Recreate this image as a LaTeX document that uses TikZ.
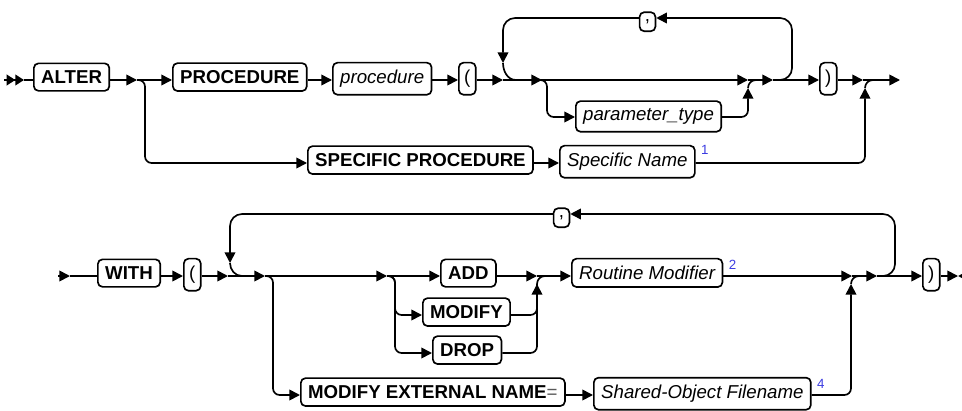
\documentclass[tikz,border=0pt]{standalone}
\usepackage{fontspec}
\setmainfont{Liberation Sans}
\usetikzlibrary{arrows.meta}
\definecolor{notenum}{RGB}{60,60,225}

\begin{document}
\begin{tikzpicture}[x=0.75pt, y=-0.75pt, line width=1.25pt,
  box/.style={draw, fill=white, rounded corners=3.5pt, inner xsep=5.5pt, inner ysep=5.5pt,
    anchor=mid west, font=\fontsize{14}{16}\selectfont},
  kw/.style={box, font=\fontsize{14}{16}\selectfont\bfseries},
  var/.style={box, font=\fontsize{14}{16}\selectfont\itshape},
  punc/.style={box, inner xsep=4pt},
  arr/.style={-{Triangle[length=8pt,width=8pt]}},
  dbl/.style={-{Triangle[length=6.5pt,width=8pt]Triangle[length=6.5pt,width=8pt]}},
  rr/.style={rounded corners=5pt},
  backloop/.style={rounded corners=9pt},
  supnum/.style={font=\fontsize{10}{12}\selectfont, text=notenum, inner sep=0pt, anchor=north west}]
  \useasboundingbox (0,0) rectangle (962,410);
  \clip (0,0) rectangle (962,410);

  % first line: ALTER PROCEDURE
  \node[kw] (alter) at (33,80) {ALTER};
  \node[kw] (proc) at (172,80) {PROCEDURE};
  \node[var] (pname) at (332,80) {procedure};
  \node[punc] (lpa) at (458,80) {(};
  \node[var] (ptype) at (575,117) {parameter\_type};
  \node[punc, anchor=mid] (comma1) at (647.5,18) {,};
  \node[punc] (rpa) at (819,80) {)};
  \node[kw] (spec) at (307,163) {SPECIFIC PROCEDURE};
  \node[var] (sname) at (559,163) {Specific Name};
  \node[supnum] (n1) at ([xshift=3.5pt,yshift=0.5pt]sname.north east) {1};

  \coordinate (s0) at (4,80);
  \coordinate (s1) at (24,80);
  \coordinate (a1) at (137,80);
  \coordinate (j1) at (145,80);
  \coordinate (a2) at (503,80);
  \coordinate (lt1) at (503,63);
  \coordinate (lh1) at (516,80);
  \coordinate (a3) at (542,80);
  \coordinate (j2) at (547,80);
  \coordinate (a5) at (748,80);
  \coordinate (m1) at (748,88);
  \coordinate (h1) at (756,80);
  \coordinate (a4) at (773,80);
  \coordinate (lr1) at (792,18);
  \coordinate (a6) at (863,80);
  \coordinate (m2) at (865,88);
  \coordinate (h2) at (873,80);
  \coordinate (e1) at (900,80);

  \draw[dbl] (s0) -- (s1);
  \draw (s1) -- (alter.mid west);
  \draw[arr] (alter.mid east) -- (a1);
  \draw[arr] (a1) -- (proc.mid west);
  \draw[arr, rr] (a1) -| (j1 |- spec.mid west) -- (spec.mid west);
  \draw[arr] (proc.mid east) -- (pname.mid west);
  \draw[arr] (pname.mid east) -- (lpa.mid west);
  \draw[arr] (lpa.mid east) -- (a2);
  \draw[arr] (a2) -- (a3);
  \draw[arr, rr] (a3) -| (j2 |- ptype.mid west) -- (ptype.mid west);
  \draw[arr] (a3) -- (a5);
  \draw[arr, rr] (ptype.mid east) -| (m1);
  \draw (m1) to[out=90, in=180] (h1);
  \draw[arr] (a5) -- (a4);
  \draw[arr] (a4) -- (rpa.mid west);
  \draw[arr, backloop] (a4) -| (lr1) -- (comma1.mid east);
  \draw[arr, backloop] (comma1.mid west) -| (lt1);
  \draw (lt1) to[out=-90, in=180] (lh1);
  \draw[arr] (rpa.mid east) -- (a6);
  \draw[arr] (a6) -- (e1);
  \draw[arr] (spec.mid east) -- (sname.mid west);
  \draw[arr, rr] (sname.mid east) -| (m2);
  \draw (m2) to[out=90, in=180] (h2);

  % second line: WITH ( ... )
  \node[kw] (with) at (97,276) {WITH};
  \node[punc] (lpb) at (183,276) {(};
  \node[kw] (add) at (440,276) {ADD};
  \node[kw] (modify) at (422,315) {MODIFY};
  \node[kw] (drop) at (432,353) {DROP};
  \node[var] (rmod) at (571,276) {Routine Modifier};
  \node[supnum] (n2) at ([xshift=3.5pt,yshift=-1pt]rmod.north east) {2};
  \node[punc, anchor=mid] (comma2) at (561.5,214) {,};
  \node[punc] (rpb) at (922,276) {)};
  \node[kw] (extname) at (300,395) {MODIFY EXTERNAL NAME{\mdseries\color{black!65}=}};
  \node[var] (sofile) at (593,395) {Shared-Object Filename};
  \node[supnum] (n4) at ([xshift=3.5pt,yshift=-1pt]sofile.north east) {4};

  \coordinate (t0) at (58,276);
  \coordinate (t1) at (70,276);
  \coordinate (b1) at (228,276);
  \coordinate (lt2) at (230,263);
  \coordinate (lh2) at (242,276);
  \coordinate (b2) at (265,276);
  \coordinate (j3) at (273,276);
  \coordinate (b3) at (387,276);
  \coordinate (j4) at (395,276);
  \coordinate (b4) at (537,276);
  \coordinate (m3) at (537,284);
  \coordinate (h3) at (545,276);
  \coordinate (b5) at (852,276);
  \coordinate (m4) at (851,284);
  \coordinate (h4) at (859,276);
  \coordinate (b6) at (877,276);
  \coordinate (lr2) at (895,214);
  \coordinate (e2) at (958,276);
  \coordinate (e3) at (972,276);

  \draw[arr] (t0) -- (t1);
  \draw (t1) -- (with.mid west);
  \draw[arr] (with.mid east) -- (lpb.mid west);
  \draw[arr] (lpb.mid east) -- (b1);
  \draw[arr] (b1) -- (b2);
  \draw[arr, rr] (b2) -| (j3 |- extname.mid west) -- (extname.mid west);
  \draw[arr] (b2) -- (b3);
  \draw[arr] (b3) -- (add.mid west);
  \draw[arr, rr] (b3) -| (j4 |- modify.mid west) -- (modify.mid west);
  \draw[arr, rr] (b3) -| (j4 |- drop.mid west) -- (drop.mid west);
  \draw[arr] (add.mid east) -- (b4);
  \draw[rr] (modify.mid east) -| (m3);
  \draw[arr, rr] (drop.mid east) -| (m3);
  \draw (m3) to[out=90, in=180] (h3);
  \draw[arr] (b4) -- (rmod.mid west);
  \draw[arr] (rmod.mid east) -- (b5);
  \draw[arr] (b5) -- (b6);
  \draw[arr, backloop] (b6) -| (lr2) -- (comma2.mid east);
  \draw[arr, backloop] (comma2.mid west) -| (lt2);
  \draw (lt2) to[out=-90, in=180] (lh2);
  \draw[arr] (b6) -- (rpb.mid west);
  \draw[arr] (rpb.mid east) -- (e2);
  \draw[{Triangle[length=8pt,width=8pt]}-] (e2) -- (e3);
  \draw[arr] (extname.mid east) -- (sofile.mid west);
  \draw[arr, rr] (sofile.mid east) -| (m4);
  \draw (m4) to[out=90, in=180] (h4);
\end{tikzpicture}
\end{document}
